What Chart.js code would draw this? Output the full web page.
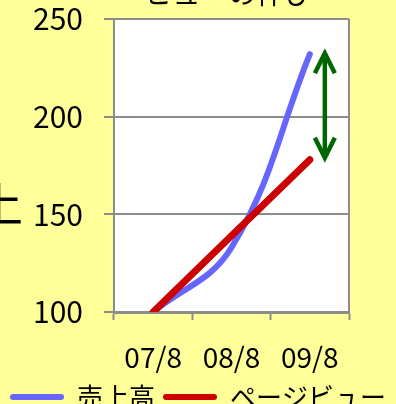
<!DOCTYPE html>
<html><head><meta charset="utf-8">
<script src="https://cdn.jsdelivr.net/npm/chart.js@4.4.1/dist/chart.umd.min.js"></script>
<style>
html,body{margin:0;padding:0;background:#ffff99;overflow:hidden;width:396px;height:404px;}
#wrap{position:absolute;left:0;top:0;width:396px;height:440px;}
canvas{display:block;}
</style></head><body>
<div id="wrap"><canvas id="c" width="396" height="440" style="width:396px;height:440px"></canvas></div>
<script>
const categories = ['07/8', '08/8', '09/8'];
const salesValues = [100, 133, 232];
const pageViewValues = [100, 139, 178];
const yTickValues = [100, 150, 200, 250];
const seriesNames = ['売上高', 'ページビュー'];
const titleLines = ['売上とページ', 'ビューの伸び'];
const yAxisTitle = '売上';

const FONT = "'Noto Sans CJK JP', 'Noto Sans', sans-serif";

const decorPlugin = {
  id: 'decor',
  beforeDraw(chart) {
    const {ctx, chartArea: a} = chart;
    ctx.save();
    ctx.fillStyle = '#ffff99';
    ctx.fillRect(0, 0, chart.width, chart.height);
    ctx.fillStyle = '#ffffff';
    ctx.fillRect(a.left, a.top, a.right - a.left, a.bottom - a.top);
    ctx.restore();
  },
  beforeDatasetsDraw(chart) {
    const {ctx, chartArea: a} = chart;
    ctx.save();
    ctx.strokeStyle = '#8c8c8c';
    ctx.lineWidth = 2;
    ctx.beginPath();
    ctx.moveTo(a.right, a.top);
    ctx.lineTo(a.right, a.bottom);
    ctx.stroke();
    ctx.restore();
  },
  afterDatasetsDraw(chart) {
    const {ctx, chartArea: a, scales: {x, y}} = chart;
    const last = categories.length - 1;
    const ax = x.getPixelForValue(last) + 15;
    const yTop = y.getPixelForValue(salesValues[last]) - 1;
    const yBot = y.getPixelForValue(pageViewValues[last]) - 2;
    ctx.save();
    ctx.strokeStyle = '#006600';
    ctx.lineWidth = 4.5;
    ctx.lineCap = 'butt';
    ctx.lineJoin = 'miter';
    ctx.beginPath();
    ctx.moveTo(ax, yTop + 2);
    ctx.lineTo(ax, yBot - 2);
    ctx.stroke();
    ctx.beginPath();
    ctx.moveTo(ax - 10, yTop + 20);
    ctx.lineTo(ax, yTop);
    ctx.lineTo(ax + 10, yTop + 20);
    ctx.stroke();
    ctx.beginPath();
    ctx.moveTo(ax - 10, yBot - 20);
    ctx.lineTo(ax, yBot);
    ctx.lineTo(ax + 10, yBot - 20);
    ctx.stroke();
    ctx.restore();

    // titles (partly outside the visible crop)
    ctx.save();
    ctx.fillStyle = '#000';
    ctx.textBaseline = 'middle';
    ctx.textAlign = 'center';
    ctx.font = '28px ' + FONT;
    const cx = (a.left + a.right) / 2 - 3;
    const lastY = a.top - 26;
    titleLines.forEach((t, i) => {
      ctx.fillText(t, cx, lastY - (titleLines.length - 1 - i) * 34);
    });
    ctx.textAlign = 'right';
    ctx.font = '46px ' + FONT;
    ctx.fillText(yAxisTitle, a.left - 91, (a.top + a.bottom) / 2 + 38);
    ctx.restore();
  }
};

new Chart(document.getElementById('c'), {
  type: 'line',
  data: {
    labels: categories,
    datasets: [
      {
        label: seriesNames[1],
        data: pageViewValues,
        borderColor: '#cc0000',
        backgroundColor: '#cc0000',
        borderWidth: 7,
        borderCapStyle: 'round',
        tension: 0,
        pointRadius: 0
      },
      {
        label: seriesNames[0],
        data: salesValues,
        borderColor: '#6666ff',
        backgroundColor: '#6666ff',
        borderWidth: 6,
        borderCapStyle: 'round',
        tension: 0.4,
        pointRadius: 0
      }
    ]
  },
  options: {
    responsive: false,
    animation: false,
    devicePixelRatio: 1,
    layout: {padding: {top: 0, right: 0, left: 0, bottom: 20}},
    plugins: {
      title: {display: false},
      tooltip: {enabled: false},
      legend: {
        display: true,
        position: 'bottom',
        reverse: true,
        labels: {
          color: '#000',
          font: {family: FONT, size: 26},
          boxWidth: 54,
          boxHeight: 6,
          useBorderRadius: true,
          borderRadius: 3,
          padding: 8,
          generateLabels(chart) {
            const items = Chart.defaults.plugins.legend.labels.generateLabels(chart);
            items.forEach(it => { it.lineWidth = 0; it.strokeStyle = 'rgba(0,0,0,0)'; });
            return items;
          }
        }
      }
    },
    scales: {
      x: {
        offset: true,
        grid: {display: true, offset: true, drawOnChartArea: false, drawTicks: true, tickLength: 8, tickWidth: 2, tickColor: '#8c8c8c'},
        border: {display: true, color: '#8c8c8c', width: 3},
        ticks: {color: '#000', font: {family: FONT, size: 28}, padding: 21, maxRotation: 0, autoSkip: false},
        afterFit(s) { s.height = 64; }
      },
      y: {
        min: 100,
        max: 250,
        afterBuildTicks(s) { s.ticks = yTickValues.map(v => ({value: v})); },
        grid: {color: '#8c8c8c', lineWidth: 2, drawTicks: true, tickLength: 10, tickColor: '#8c8c8c'},
        border: {display: true, color: '#8c8c8c', width: 2},
        ticks: {color: '#000', font: {family: FONT, size: 30}, padding: 21},
        afterFit(s) { s.width = 114; s.paddingTop = 19; s.paddingBottom = 18; }
      },
      yRight: {
        position: 'right',
        display: true,
        min: 100,
        max: 250,
        grid: {display: false, drawOnChartArea: false, drawTicks: false},
        border: {display: false},
        ticks: {display: false},
        afterFit(s) { s.width = 47; s.paddingTop = 0; s.paddingBottom = 0; }
      }
    }
  },
  plugins: [decorPlugin]
});
</script>
</body></html>
